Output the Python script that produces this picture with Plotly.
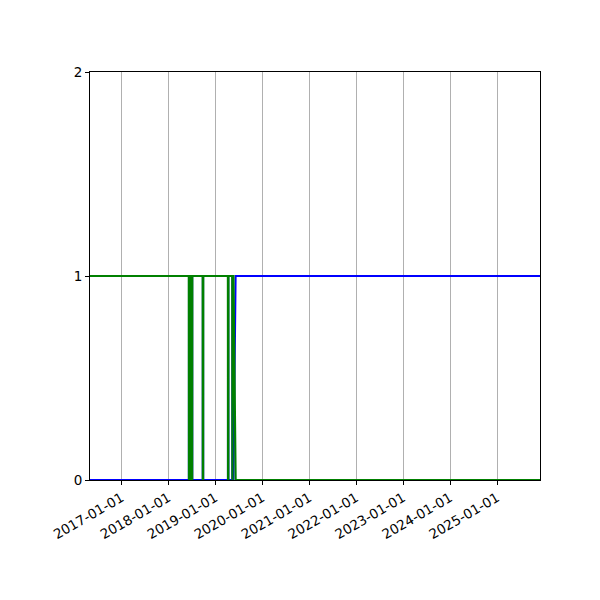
import plotly.graph_objects as go

# change points of the two states (step-like, one day apart at the edges)
dates = [
    "2016-05-01", "2018-06-09", "2018-06-10", "2018-06-12", "2018-06-13",
    "2018-06-15", "2018-06-16", "2018-06-19", "2018-06-20", "2018-06-25",
    "2018-06-26", "2018-06-28", "2018-06-29", "2018-07-01", "2018-07-02",
    "2018-07-05", "2018-07-06", "2018-09-25", "2018-09-26", "2018-09-28",
    "2018-09-29", "2019-04-09", "2019-04-10", "2019-04-12", "2019-04-13",
    "2019-05-13", "2019-05-14", "2019-05-15", "2019-05-16", "2019-05-22",
    "2019-06-08", "2025-12-01",
]
green_vals = [1, 1, 0, 0, 1, 1, 0, 0, 1, 1, 0, 0, 1, 1, 0, 0, 1, 1, 0, 0,
              1, 1, 0, 0, 1, 1, 0, 0, 1, 1, 0, 0]
blue_vals = [0, 0, 1, 1, 0, 0, 1, 1, 0, 0, 1, 1, 0, 0, 1, 1, 0, 0, 1, 1,
             0, 0, 1, 1, 0, 0, 1, 1, 0, 0, 1, 1]

year_ticks = ["2017-01-01", "2018-01-01", "2019-01-01", "2020-01-01", "2021-01-01",
              "2022-01-01", "2023-01-01", "2024-01-01", "2025-01-01"]
y_ticks = [0, 1, 2]

fig = go.Figure()

# blue first so green sits on top
fig.add_trace(go.Scatter(x=dates, y=blue_vals, mode="lines",
                         line=dict(color="#0000ff", width=2), name="blue"))
fig.add_trace(go.Scatter(x=dates, y=green_vals, mode="lines",
                         line=dict(color="#008000", width=2.2), name="green"))

# page body adds ~8px, so margins are shifted by that
fig.update_layout(
    width=600, height=600,
    margin=dict(l=82, r=68, t=64, b=128),
    paper_bgcolor="white", plot_bgcolor="white",
    showlegend=False,
    font=dict(family="DejaVu Sans", size=13.5, color="black"),
    xaxis=dict(
        type="date",
        range=["2016-05-01", "2025-12-01"],
        tickvals=year_ticks,
        tickformat="%Y-%m-%d",
        tickangle=-30,
        ticks="outside", ticklen=4, tickwidth=1, tickcolor="black",
        showgrid=True, gridcolor="#b0b0b0", gridwidth=1,
        showline=True, linecolor="black", linewidth=1, mirror=True,
        zeroline=False,
    ),
    yaxis=dict(
        range=[0, 2],
        tickvals=y_ticks,
        ticks="outside", ticklen=4, tickwidth=1, tickcolor="black",
        showgrid=False,
        showline=True, linecolor="black", linewidth=1, mirror=True,
        zeroline=False,
    ),
)

fig.write_html("out.html")
